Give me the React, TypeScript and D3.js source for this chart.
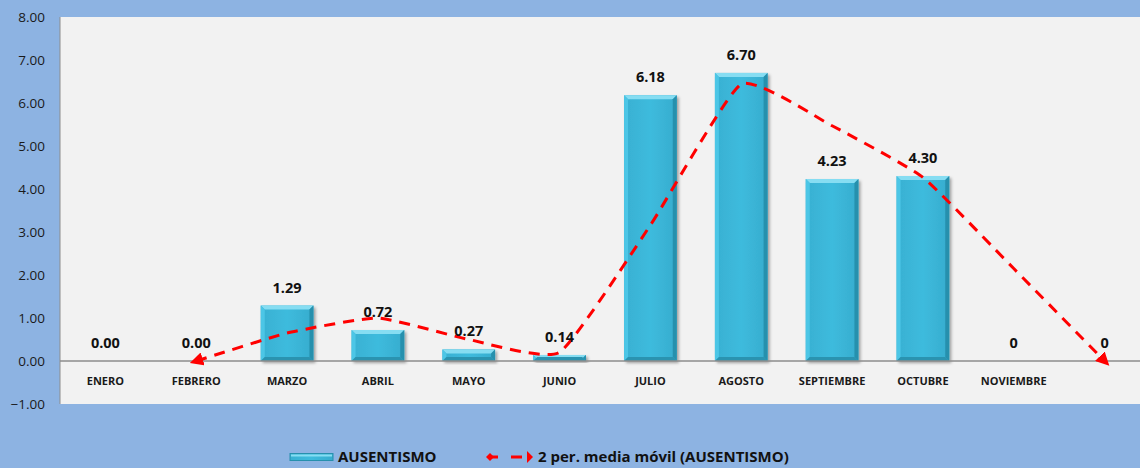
import React from "react";
import * as d3 from "d3";

const categories = ["ENERO", "FEBRERO", "MARZO", "ABRIL", "MAYO", "JUNIO", "JULIO", "AGOSTO", "SEPTIEMBRE", "OCTUBRE", "NOVIEMBRE", ""];
const ausentismo = [0, 0, 1.29, 0.72, 0.27, 0.14, 6.18, 6.70, 4.23, 4.30, 0, 0];
const labelDecimals = [2, 2, 2, 2, 2, 2, 2, 2, 2, 2, 0, 0];
const mediaMovil = [null, 0, 0.65, 1.0, 0.5, 0.2, 3.16, 6.44, 5.47, 4.27, 2.15, 0];
const yTicks = [-1, 0, 1, 2, 3, 4, 5, 6, 7, 8];

export default function App() {
  const width = 1140;
  const height = 468;
  const plot = { left: 60, top: 17, right: 1150, bottom: 404 };
  const font = "'Open Sans', sans-serif";

  const x = d3.scaleBand<number>()
    .domain(d3.range(categories.length))
    .range([plot.left, plot.right])
    .paddingInner(0.42)
    .paddingOuter(0.21);
  const y = d3.scaleLinear().domain([-1, 8]).range([plot.bottom, plot.top]);
  const cx = (i: number) => (x(i) as number) + x.bandwidth() / 2;

  const linePts = mediaMovil
    .map((v, i) => (v == null ? null : [cx(i), y(v)] as [number, number]))
    .filter((p): p is [number, number] => p !== null);
  const lineGen = d3.line().curve(d3.curveCardinal.tension(0.55));

  const bw = x.bandwidth();
  const bev = 4;

  return (
    <svg width={width} height={height} style={{ position: "absolute", left: 0, top: 0 }} fontFamily={font}>
      <defs>
        <linearGradient id="barBody" x1="0" y1="0" x2="1" y2="0">
          <stop offset="0" stopColor="#38B0D2" />
          <stop offset="0.5" stopColor="#3EBBDD" />
          <stop offset="1" stopColor="#36ACCE" />
        </linearGradient>
        <filter id="shadow" x="-20%" y="-20%" width="150%" height="150%">
          <feDropShadow dx="2" dy="2" stdDeviation="1.5" floodColor="#000" floodOpacity="0.35" />
        </filter>
        <marker id="arrowStart" viewBox="0 0 10 10" refX="5" refY="5" markerWidth="4.5" markerHeight="4.5" orient="auto-start-reverse" markerUnits="strokeWidth">
          <path d="M0,0 L10,5 L0,10 Z" fill="#FF0000" />
        </marker>
      </defs>

      <rect x={0} y={0} width={width} height={height} fill="#8DB3E2" />
      <rect x={plot.left} y={plot.top} width={plot.right - plot.left} height={plot.bottom - plot.top} fill="#F2F2F2" />
      <line x1={plot.left} x2={plot.left} y1={plot.top} y2={plot.bottom} stroke="#8C8C8C" strokeWidth={1} />

      {yTicks.map((t) => (
        <text key={t} x={45} y={y(t)} dy="0.35em" textAnchor="end" fontSize={13.5} fill="#1A1A1A">
          {d3.format(".2f")(t)}
        </text>
      ))}

      {ausentismo.map((v, i) => {
        if (v <= 0) return null;
        const bx = x(i) as number;
        const top = y(v);
        const bh = y(0) - top;
        return (
          <g key={i}>
            <rect x={bx} y={top} width={bw} height={bh} fill="url(#barBody)" filter="url(#shadow)" />
            <polygon points={`${bx},${top} ${bx + bw},${top} ${bx + bw - bev},${top + bev} ${bx + bev},${top + bev}`} fill="#86DDF2" />
            <polygon points={`${bx + bw},${top} ${bx + bw},${top + bh} ${bx + bw - bev},${top + bh - bev} ${bx + bw - bev},${top + bev}`} fill="#2690AD" />
            <polygon points={`${bx},${top} ${bx + bev},${top + bev} ${bx + bev},${top + bh - bev} ${bx},${top + bh}`} fill="#4CC6E6" />
            <polygon points={`${bx},${top + bh} ${bx + bev},${top + bh - bev} ${bx + bw - bev},${top + bh - bev} ${bx + bw},${top + bh}`} fill="#2A93B0" />
          </g>
        );
      })}

      <line x1={plot.left} x2={plot.right} y1={y(0)} y2={y(0)} stroke="#8C8C8C" strokeWidth={1.5} />

      <path
        d={lineGen(linePts) || ""}
        fill="none"
        stroke="#FF0000"
        strokeWidth={3}
        strokeDasharray="11 8"
        markerStart="url(#arrowStart)"
        markerEnd="url(#arrowStart)"
      />

      {ausentismo.map((v, i) => (
        <text key={i} x={cx(i)} y={y(Math.max(v, 0)) - 18} dy="0.35em" textAnchor="middle" fontSize={14.5} fontWeight="bold" fill="#111">
          {d3.format(`.${labelDecimals[i]}f`)(v)}
        </text>
      ))}

      {categories.map((c, i) => (
        <text key={i} x={cx(i)} y={y(0) + 20} dy="0.35em" textAnchor="middle" fontSize={11} fontWeight="bold" fill="#1A1A1A">
          {c}
        </text>
      ))}

      <g transform="translate(0,457)">
        <rect x={290} y={-3.5} width={43} height={7} fill="url(#barBody)" stroke="#2690AD" strokeWidth={1} />
        <rect x={291} y={-2.5} width={41} height={2} fill="#86DDF2" />
        <text x={338} y={0} dy="0.35em" fontSize={15} fontWeight="bold" fill="#111">AUSENTISMO</text>
        <path d="M488,0 L498,0" stroke="#FF0000" strokeWidth={3} />
        <path d="M511,0 L522,0" stroke="#FF0000" strokeWidth={3} />
        <path d="M486,0 L490,-4 L494,0 L490,4 Z" fill="#FF0000" />
        <path d="M527,-6 L533,0 L527,6 Z" fill="#FF0000" />
        <text x={538} y={0} dy="0.35em" fontSize={15} fontWeight="bold" fill="#111">2 per. media móvil (AUSENTISMO)</text>
      </g>
    </svg>
  );
}
